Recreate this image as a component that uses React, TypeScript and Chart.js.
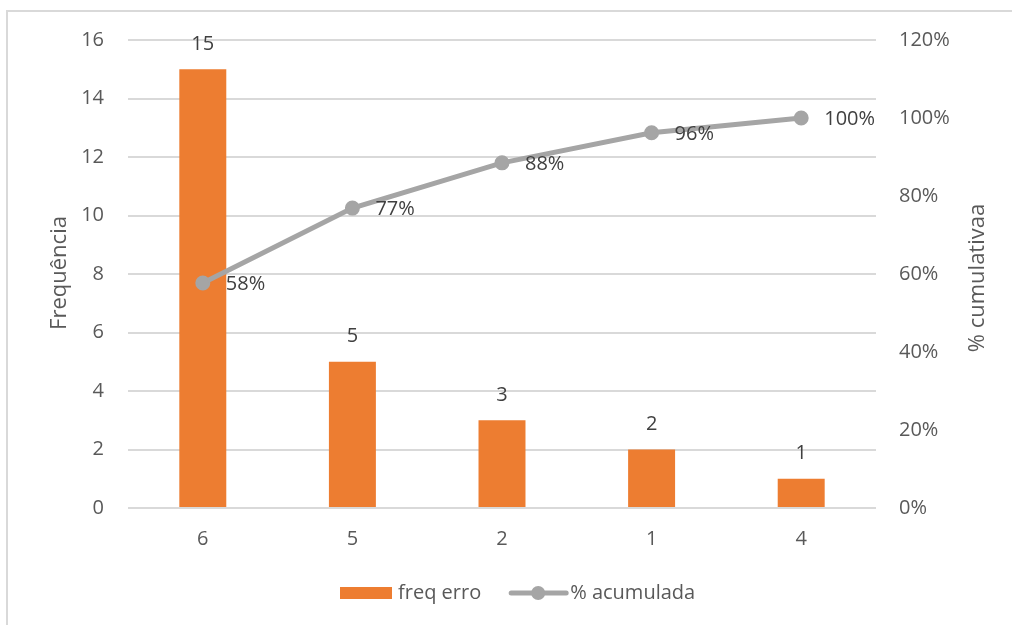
import React, { useEffect, useRef } from "react";
import { Chart, registerables } from "chart.js";

Chart.register(...registerables);

const categories = ["6", "5", "2", "1", "4"];
const freqValues = [15, 5, 3, 2, 1];
const cumulativeValues = [0.577, 0.769, 0.885, 0.962, 1.0];
const cumulativeLabels = ["58%", "77%", "88%", "96%", "100%"];
const leftTicks = [0, 2, 4, 6, 8, 10, 12, 14, 16];
const rightTicks = [0, 0.2, 0.4, 0.6, 0.8, 1.0, 1.2];
const leftTitle = "Frequência";
const rightTitle = "% cumulativaa";

const FONT = "'Open Sans', 'DejaVu Sans', sans-serif";
const TEXT = "#595959";
const ORANGE = "#ED7D31";
const GRAY = "#A5A5A5";
const GRID = "#D9D9D9";

const decorPlugin = {
  id: "decor",
  beforeDraw(chart: any) {
    const ctx = chart.ctx;
    ctx.save();
    ctx.fillStyle = "#ffffff";
    ctx.fillRect(0, 0, chart.width, chart.height);
    ctx.strokeStyle = GRID;
    ctx.lineWidth = 2;
    ctx.beginPath();
    ctx.moveTo(7, chart.height + 2);
    ctx.lineTo(7, 11);
    ctx.lineTo(chart.width + 2, 11);
    ctx.stroke();
    ctx.restore();
  },
  afterDatasetsDraw(chart: any) {
    const ctx = chart.ctx;
    ctx.save();
    ctx.font = `20px ${FONT}`;
    ctx.fillStyle = "#404040";
    const barMeta = chart.getDatasetMeta(0);
    barMeta.data.forEach((el: any, i: number) => {
      ctx.textAlign = "center";
      ctx.textBaseline = "middle";
      ctx.fillText(String(freqValues[i]), el.x, el.y - 25);
    });
    const lineMeta = chart.getDatasetMeta(1);
    lineMeta.data.forEach((el: any, i: number) => {
      ctx.textAlign = "left";
      ctx.textBaseline = "middle";
      ctx.fillText(cumulativeLabels[i], el.x + 23, el.y + 1);
    });
    ctx.restore();
  },
  afterDraw(chart: any) {
    const ctx = chart.ctx;
    const area = chart.chartArea;
    ctx.save();
    // axis titles (both read bottom-to-top)
    ctx.font = `22px ${FONT}`;
    ctx.fillStyle = TEXT;
    ctx.textAlign = "center";
    ctx.textBaseline = "middle";
    const midY = (area.top + area.bottom) / 2;
    ctx.save();
    ctx.translate(60, midY - 1);
    ctx.rotate(-Math.PI / 2);
    ctx.fillText(leftTitle, 0, 0);
    ctx.restore();
    ctx.save();
    ctx.translate(area.right + 102, midY + 4);
    ctx.rotate(-Math.PI / 2);
    ctx.fillText(rightTitle, 0, 0);
    ctx.restore();

    // legend
    ctx.font = `20px ${FONT}`;
    ctx.textBaseline = "middle";
    ctx.textAlign = "left";
    const cy = 593;
    let x = 340;
    ctx.fillStyle = ORANGE;
    ctx.fillRect(x, cy - 6, 52, 12);
    x += 58;
    ctx.fillStyle = TEXT;
    const t1 = chart.data.datasets[0].label;
    ctx.fillText(t1, x, cy);
    x += ctx.measureText(t1).width + 30;
    ctx.strokeStyle = GRAY;
    ctx.lineWidth = 5;
    ctx.lineCap = "round";
    ctx.beginPath();
    ctx.moveTo(x, cy);
    ctx.lineTo(x + 55, cy);
    ctx.stroke();
    ctx.fillStyle = GRAY;
    ctx.beginPath();
    ctx.arc(x + 27, cy, 7, 0, Math.PI * 2);
    ctx.fill();
    x += 59;
    ctx.fillStyle = TEXT;
    ctx.fillText(chart.data.datasets[1].label, x, cy);
    ctx.restore();
  },
};

export default function App() {
  const ref = useRef<HTMLCanvasElement | null>(null);
  useEffect(() => {
    if (!ref.current) return;
    const chart = new Chart(ref.current, {
      type: "bar",
      data: {
        labels: categories,
        datasets: [
          {
            type: "bar",
            label: "freq erro",
            data: freqValues,
            backgroundColor: ORANGE,
            yAxisID: "y",
            categoryPercentage: 1.0,
            barPercentage: 0.314,
            order: 2,
          },
          {
            type: "line",
            label: "% acumulada",
            data: cumulativeValues,
            borderColor: GRAY,
            backgroundColor: GRAY,
            borderWidth: 5,
            pointRadius: 6.5,
            pointBorderWidth: 2,
            pointBackgroundColor: GRAY,
            pointBorderColor: GRAY,
            yAxisID: "y1",
            order: 1,
          } as any,
        ],
      },
      options: {
        animation: false,
        responsive: true,
        maintainAspectRatio: false,
        layout: { padding: { top: 40, left: 0, right: 0, bottom: 0 } },
        plugins: {
          legend: { display: false },
          tooltip: { enabled: false },
        },
        scales: {
          x: {
            grid: { display: false, drawTicks: false },
            border: { display: false },
            ticks: {
              color: TEXT,
              font: { family: FONT, size: 20 },
              padding: 19,
            },
            afterFit(scale: any) {
              scale.height = 117;
            },
          },
          y: {
            position: "left",
            min: 0,
            max: 16,
            afterBuildTicks(scale: any) {
              scale.ticks = leftTicks.map((v) => ({ value: v }));
            },
            grid: { color: GRID, lineWidth: 2, drawTicks: false },
            border: { display: false },
            ticks: {
              color: TEXT,
              font: { family: FONT, size: 20 },
              padding: 24,
            },
            afterFit(scale: any) {
              scale.width = 128;
            },
          },
          y1: {
            position: "right",
            min: 0,
            max: 1.2,
            afterBuildTicks(scale: any) {
              scale.ticks = rightTicks.map((v) => ({ value: v }));
            },
            grid: { display: false, drawTicks: false },
            border: { display: false },
            ticks: {
              color: TEXT,
              font: { family: FONT, size: 20 },
              padding: 23,
              callback: (v: any) => Math.round(Number(v) * 100) + "%",
            },
            afterFit(scale: any) {
              scale.width = 136;
            },
          },
        },
      },
      plugins: [decorPlugin],
    });
    return () => chart.destroy();
  }, []);
  return (
    <div style={{ position: "absolute", left: 0, top: 0, width: 1012, height: 625 }}>
      <canvas ref={ref} />
    </div>
  );
}
